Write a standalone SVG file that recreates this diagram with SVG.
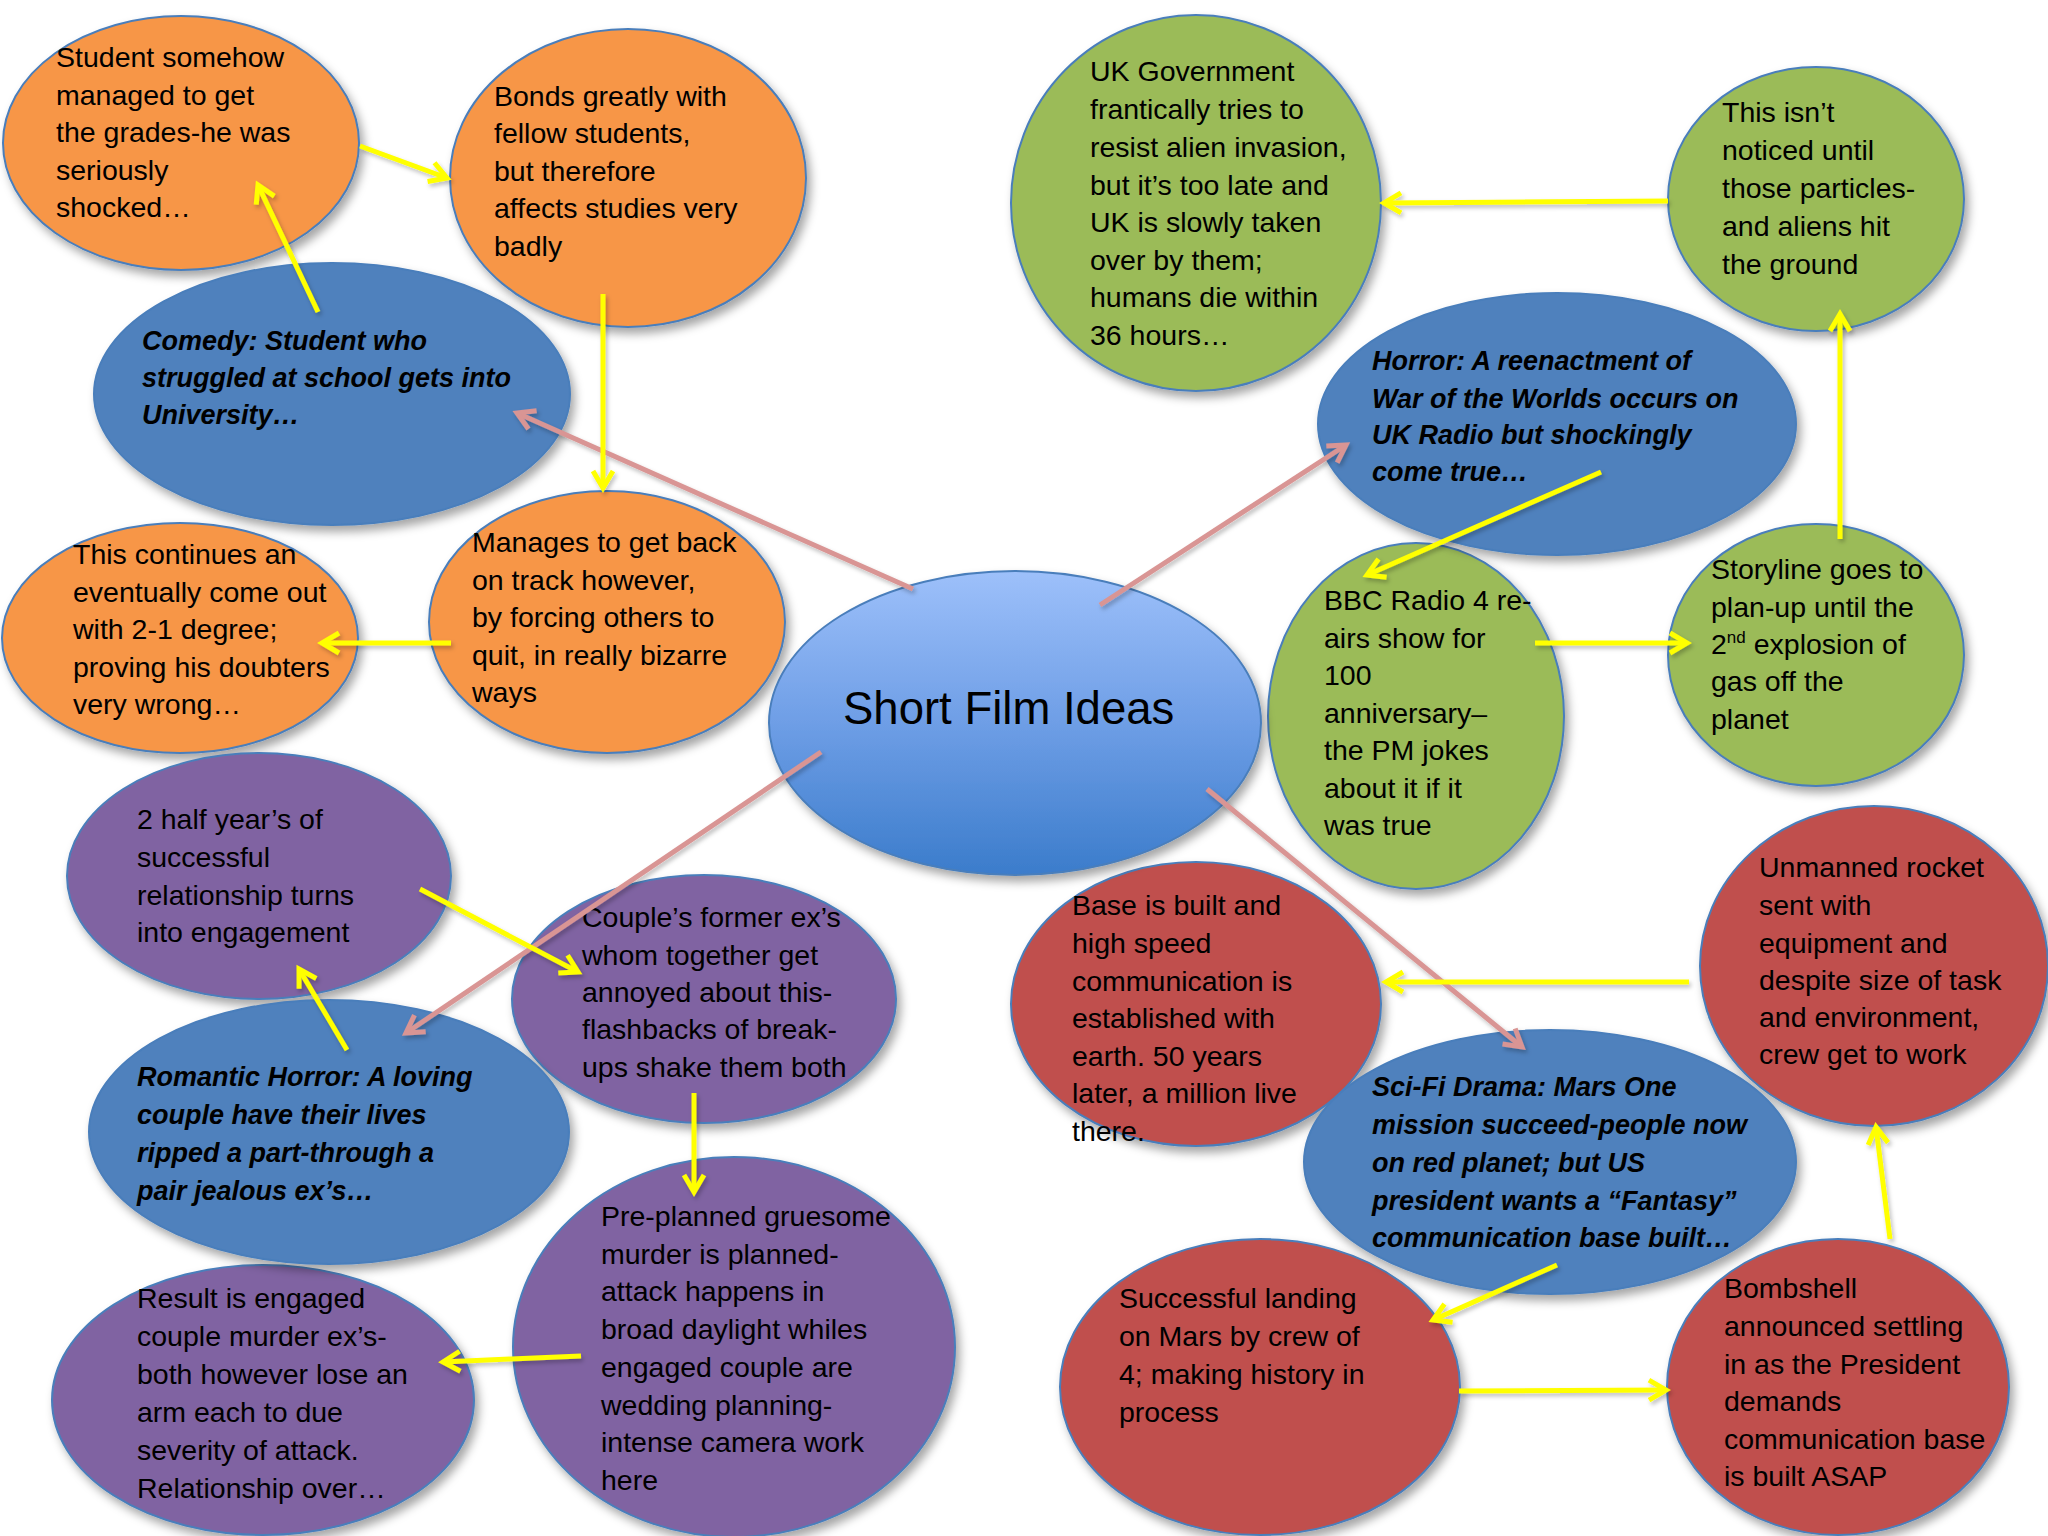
<svg xmlns="http://www.w3.org/2000/svg" width="2048" height="1536" viewBox="0 0 2048 1536">
<defs>
<filter id="sh" x="-10%" y="-10%" width="125%" height="130%">
<feDropShadow dx="4" dy="6" stdDeviation="5" flood-color="#000" flood-opacity="0.35"/>
</filter>
<filter id="lsh" x="-10%" y="-10%" width="130%" height="130%">
<feDropShadow dx="2" dy="3" stdDeviation="2" flood-color="#000" flood-opacity="0.25"/>
</filter>
<linearGradient id="cg" x1="0" y1="0" x2="0" y2="1">
<stop offset="0" stop-color="#9DC0FA"/>
<stop offset="0.5" stop-color="#6E9EE6"/>
<stop offset="1" stop-color="#3B7CCB"/>
</linearGradient>
<marker id="ay" markerUnits="userSpaceOnUse" viewBox="-22 -14 28 28" refX="0" refY="0" markerWidth="28" markerHeight="28" orient="auto" overflow="visible">
<path d="M-17,-10 L0,0 L-17,10" fill="none" stroke="#FFFF00" stroke-width="5"/>
</marker>
<marker id="ap" markerUnits="userSpaceOnUse" viewBox="-22 -14 28 28" refX="0" refY="0" markerWidth="28" markerHeight="28" orient="auto" overflow="visible">
<path d="M-17,-10 L0,0 L-17,10" fill="none" stroke="#D99594" stroke-width="5"/>
</marker>
</defs>
<style>
.e{stroke:#4A7EBB;stroke-width:2;filter:url(#sh)}
.or{fill:#F79646}.gr{fill:#9BBB59}.pu{fill:#8064A2}.rd{fill:#C0504D}.bl{fill:#4F81BD}
.t{font-family:"Liberation Sans",Arial,sans-serif;font-size:28.5px;fill:#000}
.b{font-family:"Liberation Sans",Arial,sans-serif;font-size:27px;font-weight:bold;font-style:italic;fill:#000}
.y{stroke:#FFFF00;stroke-width:5;fill:none;marker-end:url(#ay)}
.p{stroke:#D99594;stroke-width:5;fill:none;marker-end:url(#ap)}
</style>
<rect width="2048" height="1536" fill="#fff"/>

<g id="n-student">
<ellipse class="e or" cx="181" cy="143" rx="178" ry="127"/>
<text class="t"><tspan x="56" y="67">Student somehow</tspan><tspan x="56" y="105">managed to get</tspan><tspan x="56" y="142">the grades-he was</tspan><tspan x="56" y="180">seriously</tspan><tspan x="56" y="217">shocked…</tspan></text>
</g>
<g id="n-bonds">
<ellipse class="e or" cx="628" cy="178" rx="178" ry="149"/>
<text class="t"><tspan x="494" y="106">Bonds greatly with</tspan><tspan x="494" y="143">fellow students,</tspan><tspan x="494" y="181">but therefore</tspan><tspan x="494" y="218">affects studies very</tspan><tspan x="494" y="256">badly</tspan></text>
</g>
<g id="n-manages">
<ellipse class="e or" cx="607" cy="622" rx="178" ry="131"/>
<text class="t"><tspan x="472" y="552">Manages to get back</tspan><tspan x="472" y="590">on track however,</tspan><tspan x="472" y="627">by forcing others to</tspan><tspan x="472" y="665">quit, in really bizarre</tspan><tspan x="472" y="702">ways</tspan></text>
</g>
<g id="n-continues">
<ellipse class="e or" cx="180" cy="638" rx="178" ry="115"/>
<text class="t"><tspan x="73" y="564">This continues an</tspan><tspan x="73" y="602">eventually come out</tspan><tspan x="73" y="639">with 2-1 degree;</tspan><tspan x="73" y="677">proving his doubters</tspan><tspan x="73" y="714">very wrong…</tspan></text>
</g>

<g id="n-ukgov">
<ellipse class="e gr" cx="1196" cy="203" rx="185" ry="188"/>
<text class="t"><tspan x="1090" y="81">UK Government</tspan><tspan x="1090" y="119">frantically tries to</tspan><tspan x="1090" y="157">resist alien invasion,</tspan><tspan x="1090" y="195">but it’s too late and</tspan><tspan x="1090" y="232">UK is slowly taken</tspan><tspan x="1090" y="270">over by them;</tspan><tspan x="1090" y="307">humans die within</tspan><tspan x="1090" y="345">36 hours…</tspan></text>
</g>
<g id="n-noticed">
<ellipse class="e gr" cx="1816" cy="199" rx="148" ry="132"/>
<text class="t"><tspan x="1722" y="122">This isn’t</tspan><tspan x="1722" y="160">noticed until</tspan><tspan x="1722" y="198">those particles-</tspan><tspan x="1722" y="236">and aliens hit</tspan><tspan x="1722" y="274">the ground</tspan></text>
</g>
<g id="n-bbc">
<ellipse class="e gr" cx="1416" cy="716" rx="148" ry="173"/>
<text class="t"><tspan x="1324" y="610">BBC Radio 4 re-</tspan><tspan x="1324" y="648">airs show for</tspan><tspan x="1324" y="685">100</tspan><tspan x="1324" y="723">anniversary–</tspan><tspan x="1324" y="760">the PM jokes</tspan><tspan x="1324" y="798">about it if it</tspan><tspan x="1324" y="835">was true</tspan></text>
</g>
<g id="n-storyline">
<ellipse class="e gr" cx="1816" cy="655" rx="148" ry="131"/>
<text class="t"><tspan x="1711" y="579">Storyline goes to</tspan><tspan x="1711" y="617">plan-up until the</tspan><tspan x="1711" y="654">2<tspan font-size="17" dy="-11">nd</tspan><tspan dy="11"> explosion of</tspan></tspan><tspan x="1711" y="691">gas off the</tspan><tspan x="1711" y="729">planet</tspan></text>
</g>

<g id="n-halfyear">
<ellipse class="e pu" cx="259" cy="876" rx="192" ry="123"/>
<text class="t"><tspan x="137" y="829">2 half year’s of</tspan><tspan x="137" y="867">successful</tspan><tspan x="137" y="905">relationship turns</tspan><tspan x="137" y="942">into engagement</tspan></text>
</g>
<g id="n-couples">
<ellipse class="e pu" cx="704" cy="999" rx="192" ry="124"/>
<text class="t"><tspan x="582" y="927">Couple’s former ex’s</tspan><tspan x="582" y="965">whom together get</tspan><tspan x="582" y="1002">annoyed about this-</tspan><tspan x="582" y="1039">flashbacks of break-</tspan><tspan x="582" y="1077">ups shake them both</tspan></text>
</g>
<g id="n-preplanned">
<ellipse class="e pu" cx="734" cy="1347" rx="221" ry="190"/>
<text class="t"><tspan x="601" y="1226">Pre-planned gruesome</tspan><tspan x="601" y="1264">murder is planned-</tspan><tspan x="601" y="1301">attack happens in</tspan><tspan x="601" y="1339">broad daylight whiles</tspan><tspan x="601" y="1377">engaged couple are</tspan><tspan x="601" y="1415">wedding planning-</tspan><tspan x="601" y="1452">intense camera work</tspan><tspan x="601" y="1490">here</tspan></text>
</g>
<g id="n-result">
<ellipse class="e pu" cx="263" cy="1400" rx="211" ry="135"/>
<text class="t"><tspan x="137" y="1308">Result is engaged</tspan><tspan x="137" y="1346">couple murder ex’s-</tspan><tspan x="137" y="1384">both however lose an</tspan><tspan x="137" y="1422">arm each to due</tspan><tspan x="137" y="1460">severity of attack.</tspan><tspan x="137" y="1498">Relationship over…</tspan></text>
</g>

<g id="n-base">
<ellipse class="e rd" cx="1196" cy="1004" rx="185" ry="142"/>
<text class="t"><tspan x="1072" y="915">Base is built and</tspan><tspan x="1072" y="953">high speed</tspan><tspan x="1072" y="991">communication is</tspan><tspan x="1072" y="1028">established with</tspan><tspan x="1072" y="1066">earth. 50 years</tspan><tspan x="1072" y="1103">later, a million live</tspan><tspan x="1072" y="1141">there.</tspan></text>
</g>
<g id="n-unmanned">
<ellipse class="e rd" cx="1874" cy="966" rx="174" ry="160"/>
<text class="t"><tspan x="1759" y="877">Unmanned rocket</tspan><tspan x="1759" y="915">sent with</tspan><tspan x="1759" y="953">equipment and</tspan><tspan x="1759" y="990">despite size of task</tspan><tspan x="1759" y="1027">and environment,</tspan><tspan x="1759" y="1064">crew get to work</tspan></text>
</g>
<g id="n-successful">
<ellipse class="e rd" cx="1260" cy="1387" rx="200" ry="148"/>
<text class="t"><tspan x="1119" y="1308">Successful landing</tspan><tspan x="1119" y="1346">on Mars by crew of</tspan><tspan x="1119" y="1384">4; making history in</tspan><tspan x="1119" y="1422">process</tspan></text>
</g>
<g id="n-bombshell">
<ellipse class="e rd" cx="1838" cy="1387" rx="171" ry="148"/>
<text class="t"><tspan x="1724" y="1298">Bombshell</tspan><tspan x="1724" y="1336">announced settling</tspan><tspan x="1724" y="1374">in as the President</tspan><tspan x="1724" y="1411">demands</tspan><tspan x="1724" y="1449">communication base</tspan><tspan x="1724" y="1486">is built ASAP</tspan></text>
</g>

<g id="n-comedy">
<ellipse class="e bl" cx="332" cy="394" rx="238" ry="131"/>
<text class="b"><tspan x="142" y="350">Comedy: Student who</tspan><tspan x="142" y="387">struggled at school gets into</tspan><tspan x="142" y="424">University…</tspan></text>
</g>
<g id="n-horror">
<ellipse class="e bl" cx="1557" cy="424" rx="239" ry="131"/>
<text class="b"><tspan x="1372" y="370">Horror: A reenactment of</tspan><tspan x="1372" y="408">War of the Worlds occurs on</tspan><tspan x="1372" y="444">UK Radio but shockingly</tspan><tspan x="1372" y="481">come true…</tspan></text>
</g>
<g id="n-romantic">
<ellipse class="e bl" cx="329" cy="1132" rx="240" ry="132"/>
<text class="b"><tspan x="137" y="1086">Romantic Horror: A loving</tspan><tspan x="137" y="1124">couple have their lives</tspan><tspan x="137" y="1162">ripped a part-through a</tspan><tspan x="137" y="1200">pair jealous ex’s…</tspan></text>
</g>
<g id="n-scifi">
<ellipse class="e bl" cx="1550" cy="1162" rx="246" ry="132"/>
<text class="b"><tspan x="1372" y="1096">Sci-Fi Drama: Mars One</tspan><tspan x="1372" y="1134">mission succeed-people now</tspan><tspan x="1372" y="1172">on red planet; but US</tspan><tspan x="1372" y="1210">president wants a “Fantasy”</tspan><tspan x="1372" y="1247">communication base built…</tspan></text>
</g>

<g id="n-center">
<ellipse cx="1015" cy="723" rx="246" ry="152" fill="url(#cg)" stroke="#4A7EBB" stroke-width="2" filter="url(#sh)"/>
<text x="843" y="724" font-family="Liberation Sans, Arial, sans-serif" font-size="45.5" fill="#000">Short Film Ideas</text>
</g>

<g id="connectors" filter="url(#lsh)">
<line class="p" x1="913" y1="589" x2="517" y2="413"/>
<line class="p" x1="1100" y1="605" x2="1346" y2="445"/>
<line class="p" x1="821" y1="752" x2="406" y2="1033"/>
<line class="p" x1="1207" y1="789" x2="1522" y2="1047"/>
<line class="y" x1="360" y1="146" x2="447" y2="178"/>
<line class="y" x1="318" y1="312" x2="258" y2="185"/>
<line class="y" x1="603" y1="294" x2="603" y2="488"/>
<line class="y" x1="451" y1="643" x2="322" y2="643"/>
<line class="y" x1="1668" y1="201" x2="1384" y2="203"/>
<line class="y" x1="1840" y1="539" x2="1840" y2="314"/>
<line class="y" x1="1601" y1="472" x2="1367" y2="575"/>
<line class="y" x1="1535" y1="643" x2="1687" y2="643"/>
<line class="y" x1="420" y1="889" x2="578" y2="972"/>
<line class="y" x1="347" y1="1050" x2="299" y2="969"/>
<line class="y" x1="694" y1="1093" x2="694" y2="1192"/>
<line class="y" x1="581" y1="1356" x2="443" y2="1362"/>
<line class="y" x1="1689" y1="982" x2="1386" y2="982"/>
<line class="y" x1="1557" y1="1265" x2="1433" y2="1320"/>
<line class="y" x1="1459" y1="1391" x2="1666" y2="1390"/>
<line class="y" x1="1890" y1="1239" x2="1876" y2="1127"/>
</g>
</svg>
